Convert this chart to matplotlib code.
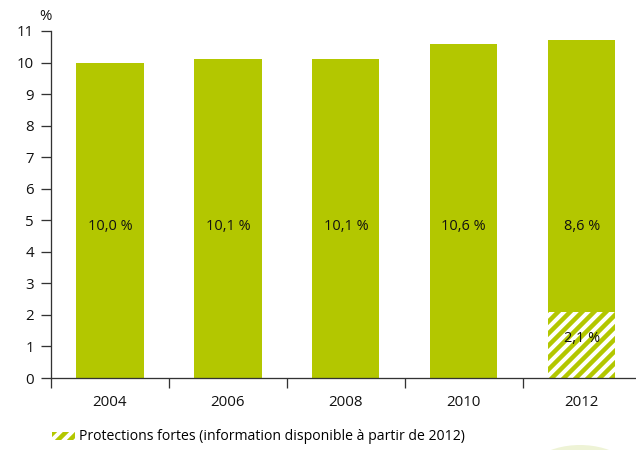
import numpy as np
import matplotlib.pyplot as plt
from matplotlib.patches import Patch, Circle

years = ['2004', '2006', '2008', '2010', '2012']
totals = [10.0, 10.1, 10.1, 10.6, 8.6]        # main bar (top segment for 2012)
strong = [0, 0, 0, 0, 2.1]                    # protections fortes, only known from 2012
labels = ['10,0 %', '10,1 %', '10,1 %', '10,6 %', '8,6 %']
strong_label = '2,1 %'

green = '#b3c700'
dark = '#333333'
txt = '#111111'

plt.rcParams['font.family'] = ['Open Sans', 'DejaVu Sans']
plt.rcParams['font.weight'] = 'medium'
plt.rcParams['hatch.linewidth'] = 4.0
plt.rcParams['hatch.color'] = 'white'

fig = plt.figure(figsize=(636 / 72, 450 / 72), dpi=72)
ax = fig.add_axes([51 / 636, 72 / 450, 585 / 636, 347 / 450])

x = np.arange(len(years))
w = 0.57
ax.bar(x, strong, width=w, color=green, edgecolor='white', linewidth=0, hatch='//')
ax.bar(x, totals, width=w, bottom=strong, color=green, linewidth=0)

for i in x:
    ax.text(i, 4.8, labels[i], ha='center', va='center', fontsize=14.5, color=txt)
ax.text(4, 1.25, strong_label, ha='center', va='center', fontsize=14.5, color=txt)

ax.set_xlim(-0.5, 4.46)
ax.set_ylim(0, 11)
ax.set_yticks(range(12))
ax.set_xticks(np.arange(-0.5, 4.5, 1))
ax.set_xticklabels([])
ax.set_xticks(x, minor=True)
ax.set_xticklabels(years, minor=True)
ax.tick_params(axis='x', which='minor', length=0, pad=17, labelsize=15, labelcolor=txt)
ax.tick_params(axis='x', which='major', length=10, width=1.3, color=dark)
ax.tick_params(axis='y', length=10, width=1.3, color=dark, labelsize=15,
               labelcolor=txt, pad=7)

for s in ['top', 'right']:
    ax.spines[s].set_visible(False)
for s in ['left', 'bottom']:
    ax.spines[s].set_color(dark)
    ax.spines[s].set_linewidth(1.3)

fig.text(45 / 636, 1 - 16 / 450, '%', ha='center', va='center', fontsize=15, color=txt)

# decorative pale disc in the lower right corner
fig.patches.append(Circle((580 / 636, -40 / 450), 0.1, transform=fig.transFigure,
                          facecolor='#eef3d6', edgecolor='none', zorder=-1))

handle = Patch(facecolor=green, edgecolor='white', linewidth=0, hatch='//')
fig.legend([handle], ['Protections fortes (information disponible à partir de 2012)'],
           loc='center left', bbox_to_anchor=(46 / 636, 1 - 437 / 450), frameon=False,
           fontsize=14, handlelength=1.7, handleheight=0.5, handletextpad=0.25,
           borderaxespad=0)

fig.savefig('out.png', dpi=72)
